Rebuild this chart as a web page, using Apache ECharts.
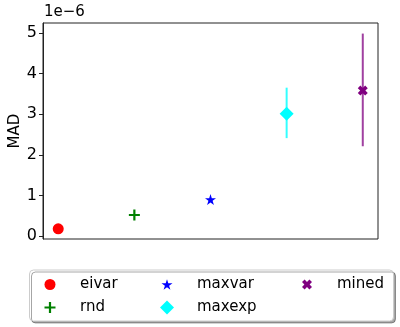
<!DOCTYPE html>
<html>
<head>
<meta charset="utf-8">
<script src="https://cdn.jsdelivr.net/npm/echarts@6/dist/echarts.min.js"></script>
<style>
  html, body { margin: 0; padding: 0; background: #fff; }
  #chart { width: 400px; height: 327px; }
</style>
</head>
<body>
<div id="chart"></div>
<script>
// --- data (values in units of 1e-6) -----------------------------------------
const methods = ["eivar", "rnd", "maxvar", "maxexp", "mined"];
const mad = [0.18, 0.52, 0.9, 3.01, 3.58];
const errLow = [null, null, null, 2.41, 2.21];
const errHigh = [null, null, null, 3.65, 4.98];
const yTicks = [0, 1, 2, 3, 4, 5];

const FONT = '"DejaVu Sans", sans-serif';
const colors = ["#ff0000", "#008000", "#0000ff", "#00ffff", "#800080"];
const errColors = ["", "", "", "rgba(0,255,255,0.8)", "rgba(128,0,128,0.75)"];

const PLUS = "path://M4,0H6V4H10V6H6V10H4V6H0V4H4Z";
const STAR = "path://M100,0L122.45,69.1L195.1,69.1L136.3,111.8L158.8,180.9L100,138.2L41.2,180.9L63.7,111.8L4.9,69.1L77.55,69.1Z";
const XMARK = "path://M2.6,0L5,2.4L7.4,0L10,2.6L7.6,5L10,7.4L7.4,10L5,7.6L2.6,10L0,7.4L2.4,5L0,2.6Z";
const symbols = ["circle", PLUS, STAR, "diamond", XMARK];
const sizes = [11, 11, 11, 14, 10];

// legend layout: matplotlib fills columns first (ncol=3)
const legendPos = [
  { cx: 50, text: 80, cy: 283 },
  { cx: 50, text: 80, cy: 306 },
  { cx: 167, text: 197, cy: 283 },
  { cx: 167, text: 197, cy: 306 },
  { cx: 307, text: 337, cy: 283 },
];

const series = [];
methods.forEach((m, i) => {
  if (errLow[i] !== null) {
    series.push({
      name: "_err_" + m,
      type: "line",
      data: [[i, errLow[i]], [i, errHigh[i]]],
      showSymbol: false,
      symbol: "none",
      lineStyle: { color: errColors[i], width: 2 },
      z: 1,
      silent: true,
    });
  }
  series.push({
    name: m,
    type: "scatter",
    data: [[i, mad[i]]],
    symbol: symbols[i],
    symbolSize: sizes[i],
    itemStyle: { color: colors[i], opacity: 1 },
    z: 3,
  });
});

const legends = methods.map((m, i) => {
  const p = legendPos[i];
  const s = sizes[i];
  return {
    data: [{ name: m, icon: symbols[i] }],
    left: p.cx - s / 2,
    top: p.cy - 6,
    padding: 0,
    itemWidth: s,
    itemHeight: s,
    selectedMode: false,
    textStyle: {
      fontFamily: FONT, fontSize: 15, color: "#000",
      padding: [0, 0, 0, p.text - (p.cx + s / 2) - 5],
    },
  };
});

const chart = echarts.init(document.getElementById("chart"), null, { renderer: "canvas" });
chart.setOption({
  animation: false,
  grid: {
    left: 43, right: 22, top: 23, bottom: 88,
    outerBoundsMode: "none", containLabel: false,
    show: true, borderColor: "#222", borderWidth: 1, backgroundColor: "transparent",
  },
  xAxis: {
    type: "value", min: -0.2, max: 4.2,
    axisLine: { show: false, onZero: false }, axisTick: { show: false },
    axisLabel: { show: false }, splitLine: { show: false },
  },
  yAxis: {
    type: "value", min: -0.07, max: 5.24,
    axisLine: { show: true, onZero: false, lineStyle: { color: "#222", width: 1 } },
    axisTick: { show: true, length: 4, inside: false, lineStyle: { color: "#222", width: 1 },
      customValues: yTicks },
    axisLabel: { fontFamily: FONT, fontSize: 16, color: "#000", margin: 6,
      customValues: yTicks },
    splitLine: { show: false },
    name: "MAD",
    nameLocation: "middle",
    nameGap: 20,
    nameMoveOverlap: false,
    nameTextStyle: { fontFamily: FONT, fontSize: 15, color: "#000" },
  },
  legend: legends,
  graphic: [
    {
      type: "rect",
      shape: { x: 29.5, y: 270, width: 364, height: 51, r: 4 },
      style: { fill: "#fff", stroke: "#cccccc", lineWidth: 1,
        shadowColor: "rgba(0,0,0,0.35)", shadowOffsetX: 2, shadowOffsetY: 2, shadowBlur: 0 },
      z: -1,
    },
    {
      type: "text", left: 44, top: 5,
      style: { text: "1e\u22126", fontFamily: FONT, fontSize: 15, fill: "#000" },
    },
  ],
  series,
});
</script>
</body>
</html>
